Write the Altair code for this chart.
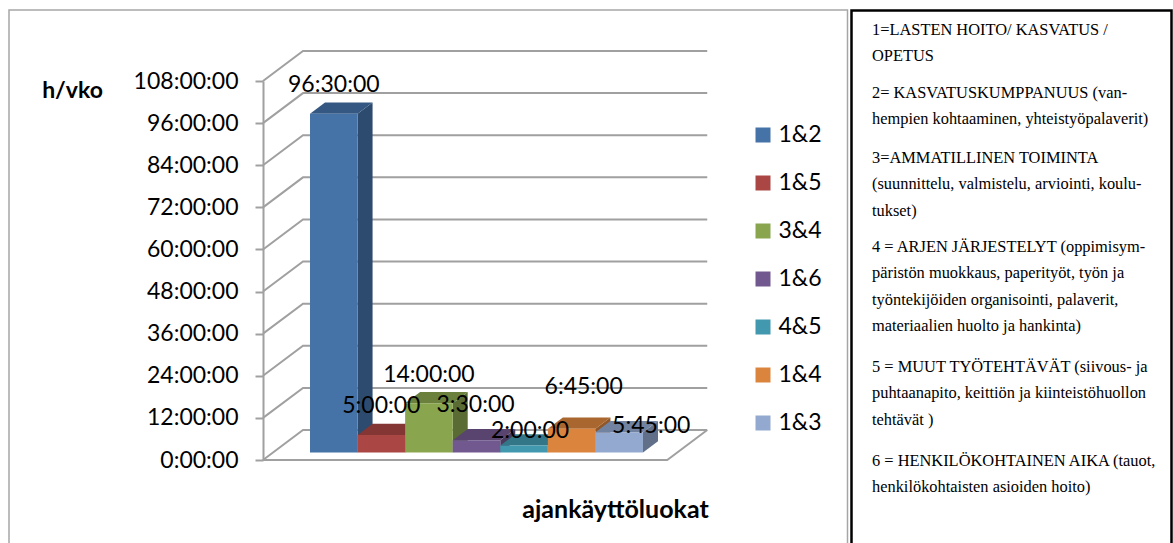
import altair as alt
import pandas as pd

# ---------------- data ----------------
categories = ["1&2", "1&5", "3&4", "1&6", "4&5", "1&4", "1&3"]
hours = [96.5, 5.0, 14.0, 3.5, 2.0, 6.75, 5.75]
value_labels = ["96:30:00", "5:00:00", "14:00:00", "3:30:00", "2:00:00", "6:45:00", "5:45:00"]
colors = ["#4572A7", "#AA4643", "#89A54E", "#71588F", "#4198AF", "#DB843D", "#93A9CF"]
y_ticks = [0, 12, 24, 36, 48, 60, 72, 84, 96, 108]
y_title = "h/vko"
x_title = "ajankäyttöluokat"

note_paragraphs = [
    ["1=LASTEN HOITO/ KASVATUS /", "OPETUS"],
    ["2= KASVATUSKUMPPANUUS (van-", "hempien kohtaaminen, yhteistyöpalaverit)"],
    ["3=AMMATILLINEN TOIMINTA", "(suunnittelu, valmistelu, arviointi, koulu-", "tukset)"],
    ["4 = ARJEN JÄRJESTELYT (oppimisym-", "päristön muokkaus, paperityöt, työn ja",
     "työntekijöiden organisointi, palaverit,", "materiaalien huolto ja hankinta)"],
    ["5 = MUUT TYÖTEHTÄVÄT (siivous- ja", "puhtaanapito, keittiön ja kiinteistöhuollon", "tehtävät )"],
    ["6 = HENKILÖKOHTAINEN AIKA (tauot,", "henkilökohtaisten asioiden hoito)"],
]

# ---------------- layout / style ----------------
LEFT, TOP = 263, 81
PLOT_W, PLOT_H = 910, 379
Y_MAX = 108
PX_PER_UNIT = 47.57
U_MIN = -37 / PX_PER_UNIT
U_MAX = U_MIN + PLOT_W / PX_PER_UNIT
PX_PER_H = PLOT_H / Y_MAX
DX = 40 / PX_PER_UNIT          # full depth, x units
DY = 30 / PX_PER_H             # full depth, hours
D0, D1 = 0.25, 0.625           # bar depth range
FLOOR_RIGHT = 7.72
# Excel-like data label placement (pixel nudges from the top-front centre of each bar)
LABEL_NUDGE_X = [0, 0, 0, -1, 6, 12, 32]
LABEL_NUDGE_Y = [-28.5, -28.5, -28.5, -35, -14.5, -41.5, -6.5]


def shade(hexcol, f):
    h = hexcol.lstrip("#")
    r, g, b = (int(h[i:i + 2], 16) for i in (0, 2, 4))
    return "#%02x%02x%02x" % (int(r * f), int(g * f), int(b * f))


FONT = "Lato"
GRID = "#A0A0A0"

x_enc = lambda f: alt.X(f, type="quantitative",
                        scale=alt.Scale(domain=[U_MIN, U_MAX], nice=False, zero=False),
                        axis=alt.Axis(title=x_title, labels=False, ticks=False, domain=False, grid=False,
                                      titleX=352, titleY=57, titleBaseline="alphabetic",
                                      titleFont=FONT, titleFontSize=25, titleFontWeight="bold",
                                      titleColor="black"))
y_enc = lambda f: alt.Y(f, type="quantitative", stack=None,
                        scale=alt.Scale(domain=[0, Y_MAX], nice=False, zero=True),
                        axis=alt.Axis(values=y_ticks, labelExpr="datum.value + ':00:00'",
                                      labelFont=FONT, labelFontSize=23, labelColor="black",
                                      labelPadding=17, tickSize=8, tickColor=GRID, tickWidth=2,
                                      domainColor=GRID, domainWidth=2, grid=False,
                                      title=y_title, titleAngle=0, titleAlign="center",
                                      titleBaseline="alphabetic", titleX=-191, titleY=16,
                                      titleFont=FONT, titleFontSize=23, titleFontWeight="bold",
                                      titleColor="black"))

# gridlines on the side wall and back wall, plus the floor edge
grid_rows = []
for v in y_ticks:
    pts = [(U_MIN, v), (U_MIN + DX, v + DY), (FLOOR_RIGHT + DX, v + DY)]
    for k, (xx, yy) in enumerate(pts):
        grid_rows.append({"g": v, "k": k, "x": xx, "y": yy})
floor_pts = [(U_MIN, 0), (FLOOR_RIGHT, 0), (FLOOR_RIGHT + DX, DY)]
for k, (xx, yy) in enumerate(floor_pts):
    grid_rows.append({"g": -1, "k": k, "x": xx, "y": yy})
grid_df = pd.DataFrame(grid_rows)

grid = alt.Chart(grid_df).mark_line(color=GRID, strokeWidth=2).encode(
    x=x_enc("x"), y=y_enc("y"), detail="g:N", order="k:Q")

# bar faces
front_rows, side_rows, top_rows, label_rows = [], [], [], []
for i, (c, v, col, lab) in enumerate(zip(categories, hours, colors, value_labels)):
    xl = i + D0 * DX
    xr = i + 1 + D0 * DX
    yb = D0 * DY
    yt = v + D0 * DY
    ddx = (D1 - D0) * DX
    ddy = (D1 - D0) * DY
    front_rows.append({"cat": c, "x": xl, "x2": xr, "y": yb, "y2": yt})
    sc = shade(col, 0.66)
    side_rows += [
        {"cat": c, "x": xr, "y": yt, "y2": yb, "col": sc},
        {"cat": c, "x": xr + ddx, "y": yt + ddy, "y2": yb + ddy, "col": sc},
    ]
    tc = shade(col, 0.78)
    top_rows += [
        {"cat": c, "x": xl, "y": yt, "y2": yt, "col": tc},
        {"cat": c, "x": xl + ddx, "y": yt + ddy, "y2": yt, "col": tc},
        {"cat": c, "x": xr, "y": yt + ddy, "y2": yt, "col": tc},
        {"cat": c, "x": xr + ddx, "y": yt + ddy, "y2": yt + ddy, "col": tc},
    ]
    label_rows.append({"cat": c,
                       "x": (xl + xr) / 2 + LABEL_NUDGE_X[i] / PX_PER_UNIT,
                       "y": yt - LABEL_NUDGE_Y[i] / PX_PER_H,
                       "lab": lab})

sides = alt.Chart(pd.DataFrame(side_rows)).mark_area(orient="vertical").encode(
    x=x_enc("x"), y=y_enc("y"), y2="y2:Q", detail="cat:N",
    fill=alt.Fill("col:N", scale=None))
tops = alt.Chart(pd.DataFrame(top_rows)).mark_area(orient="vertical").encode(
    x=x_enc("x"), y=y_enc("y"), y2="y2:Q", detail="cat:N",
    fill=alt.Fill("col:N", scale=None))
fronts = alt.Chart(pd.DataFrame(front_rows)).mark_rect().encode(
    x=x_enc("x"), x2="x2:Q", y=y_enc("y"), y2="y2:Q",
    color=alt.Color("cat:N", sort=categories,
                    scale=alt.Scale(domain=categories, range=colors),
                    legend=alt.Legend(orient="none", legendX=488.5, legendY=42.5, title=None,
                                      symbolType="square", symbolSize=225, symbolStrokeWidth=0,
                                      labelFont=FONT, labelFontSize=23, labelColor="black",
                                      rowPadding=24, labelOffset=4, padding=0)))
labels = alt.Chart(pd.DataFrame(label_rows)).mark_text(
    font=FONT, fontSize=23, color="black", baseline="middle", align="center"
).encode(x=x_enc("x"), y=y_enc("y"), text="lab:N")

one = pd.DataFrame({"a": [0]})
chart_frame = alt.Chart(one).mark_rect(fill=None, stroke="#A6A6A6", strokeWidth=1.5).encode(
    x=alt.value(9 - LEFT), x2=alt.value(847.5 - LEFT), y=alt.value(10 - TOP), y2=alt.value(700))
note_frame = alt.Chart(one).mark_rect(fill=None, stroke="black", strokeWidth=2.5).encode(
    x=alt.value(851.5 - LEFT), x2=alt.value(1171.5 - LEFT), y=alt.value(10.5 - TOP), y2=alt.value(700))

para_baselines = [34.5, 97.5, 162.5, 251.5, 371.5, 465.5]
notes = []
for lines, yb in zip(note_paragraphs, para_baselines):
    notes.append(alt.Chart(one).mark_text(
        text=lines, font="Liberation Serif", fontSize=16.4, lineHeight=26.5, color="black",
        align="left", baseline="alphabetic").encode(x=alt.value(872 - LEFT), y=alt.value(yb - TOP)))

chart = alt.layer(chart_frame, note_frame, grid, sides, tops, fronts, labels, *notes).properties(
    width=PLOT_W, height=PLOT_H,
    autosize=alt.AutoSizeParams(type="none"),
    padding={"left": LEFT, "top": TOP, "right": 0, "bottom": 543 - TOP - PLOT_H},
    background="white",
).configure_view(stroke=None)

chart.save("out.html", embed_options={"renderer": "svg", "actions": False})
